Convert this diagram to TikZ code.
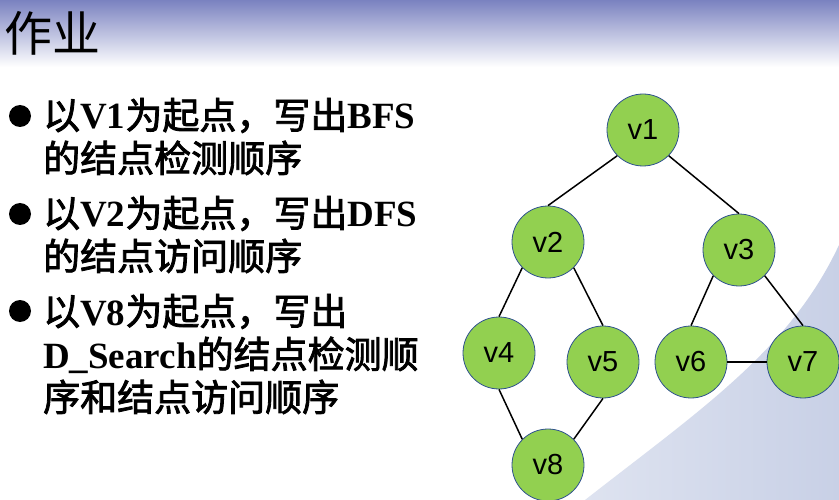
\documentclass[tikz,border=0pt]{standalone}
\usepackage{fontspec}
\setmainfont{Liberation Serif}
\newfontfamily\cjk{Noto Sans CJK SC}
\newfontfamily\cjkm{Noto Sans CJK SC}[FakeBold=2.2]
\newfontfamily\arialf{Liberation Sans}
\newcommand\zhtext[1]{{\cjkm\mdseries #1}}
\definecolor{hdr}{RGB}{122,130,192}
\definecolor{swA}{RGB}{222,227,240}
\definecolor{swB}{RGB}{200,208,230}
\definecolor{nodefill}{RGB}{146,208,80}
\definecolor{nodeline}{RGB}{47,82,143}
\begin{document}
\begin{tikzpicture}[x=1pt,y=-1pt,
  vnode/.style={circle, draw=nodeline, line width=0.8pt, fill=nodefill,
    minimum size=72pt, inner sep=0pt, font=\arialf\fontsize{29}{29}\selectfont},
  edge/.style={draw=black, line width=1.5pt},
  bul/.style={circle, fill=black, minimum size=22pt, inner sep=0pt},
  txt/.style={anchor=base west, inner sep=0pt, font=\bfseries\fontsize{37}{37}\selectfont}]
\useasboundingbox (0,0) rectangle (839,500);
\fill[white] (0,0) rectangle (839,500);
\shade[top color=hdr, bottom color=white] (0,0) rectangle (839,67);
\shade[left color=swA, right color=swB] (585,500) .. controls (700,410) and (790,350) .. (839,245) -- (839,500) -- cycle;
\node[font=\cjk\fontsize{48}{48}\selectfont, inner sep=0pt] (title) at (53,33) {作业};
\node[bul] (b1) at (20,116) {};
\node[bul] (b2) at (20,214) {};
\node[bul] (b3) at (20,311) {};
\node[txt] (l1) at (43,129) {\zhtext{以}V1\zhtext{为起点，写出}BFS};
\node[txt] (l2) at (43,172) {\zhtext{的结点检测顺序}};
\node[txt] (l3) at (43,227) {\zhtext{以}V2\zhtext{为起点，写出}DFS};
\node[txt] (l4) at (43,270) {\zhtext{的结点访问顺序}};
\node[txt] (l5) at (43,325) {\zhtext{以}V8\zhtext{为起点，写出}};
\node[txt] (l6) at (43,368) {D\_Search\zhtext{的结点检测顺}};
\node[txt] (l7) at (43,411) {\zhtext{序和结点访问顺序}};
\node[vnode] (v1) at (643,130) {v1};
\node[vnode] (v2) at (548,242) {v2};
\node[vnode] (v3) at (739,250) {v3};
\node[vnode] (v4) at (499,353) {v4};
\node[vnode] (v5) at (603,362) {v5};
\node[vnode] (v6) at (691,362) {v6};
\node[vnode] (v7) at (803,362) {v7};
\node[vnode] (v8) at (548,465) {v8};
\draw[edge] (v1.south west) -- (v2.north);
\draw[edge] (v1.south east) -- (v3.north);
\draw[edge] (v2.south west) -- (v4.north);
\draw[edge] (v2.south east) -- (v5.north);
\draw[edge] (v3.south west) -- (v6.north);
\draw[edge] (v3.south east) -- (v7.north);
\draw[edge] (v6.east) -- (v7.west);
\draw[edge] (v4.south) -- (v8.north west);
\draw[edge] (v5.south) -- (v8.north east);
\end{tikzpicture}
\end{document}
